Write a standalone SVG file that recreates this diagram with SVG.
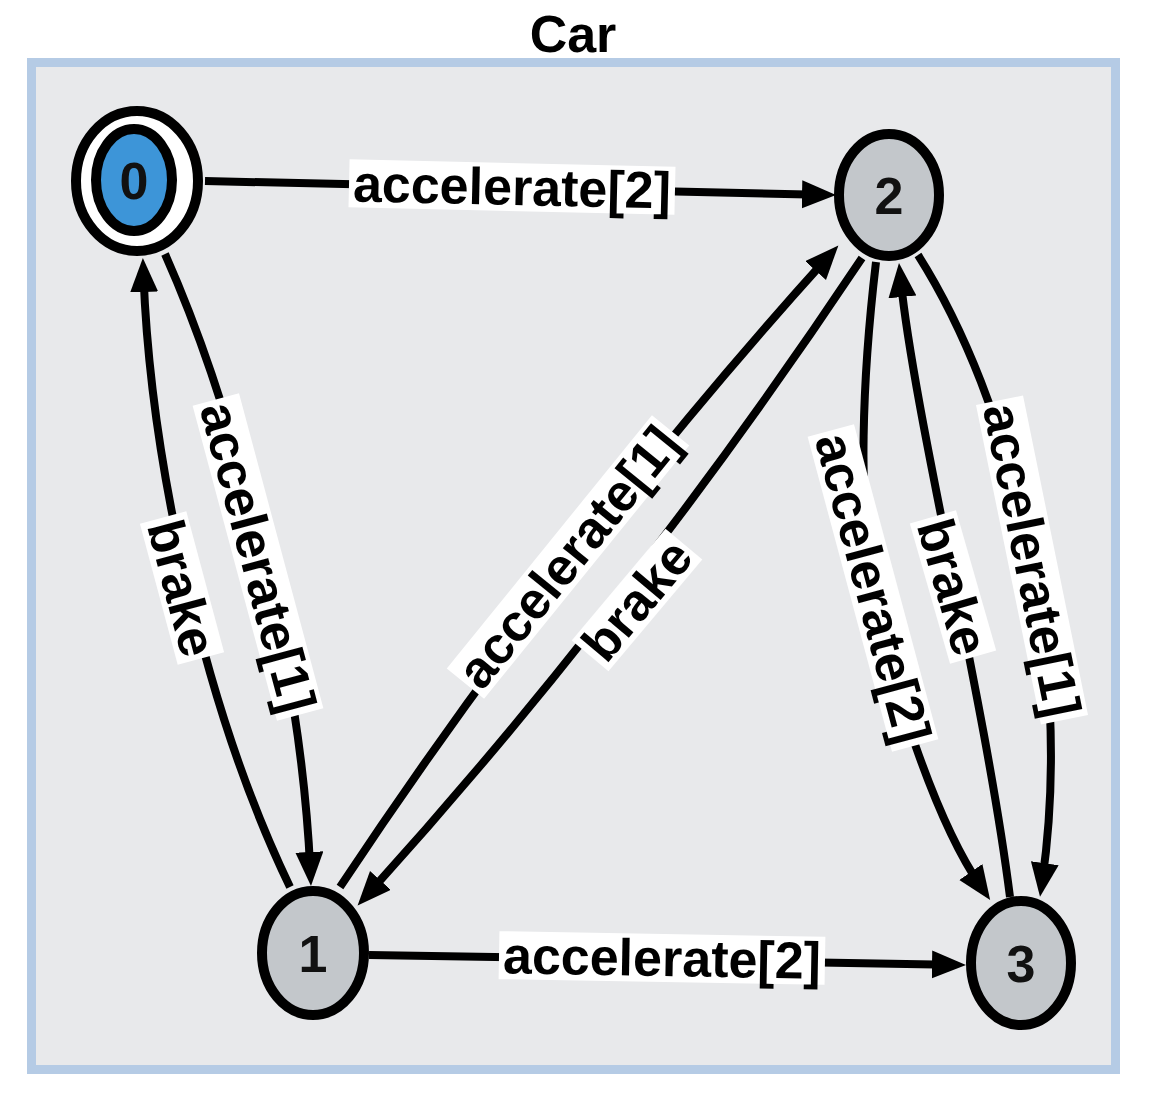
<svg xmlns="http://www.w3.org/2000/svg" width="1164" height="1116" viewBox="0 0 1164 1116">
<defs>
<marker id="arr" markerUnits="userSpaceOnUse" markerWidth="36" markerHeight="30" refX="17" refY="14" orient="auto" viewBox="0 0 36 30">
<path d="M0,0 L34,14 L0,28 z" fill="#000"/>
</marker>
<style>
.edge{fill:none;stroke:#000;stroke-width:8;marker-end:url(#arr)}
.lbg{fill:#fff}
.lt{font-family:"Liberation Sans",Arial,Helvetica,sans-serif;font-weight:bold;font-size:52px;fill:#000;text-anchor:middle}
.node{fill:#c3c7cb;stroke:#000;stroke-width:10}
.nt{font-family:"Liberation Sans",Arial,Helvetica,sans-serif;font-weight:bold;font-size:52px;fill:#111;text-anchor:middle}
</style>
</defs>
<rect width="1164" height="1116" fill="#ffffff"/>
<g id="container">
<rect x="31.5" y="62.5" width="1084" height="1007" fill="#e8e9eb" stroke="#b5cbe5" stroke-width="9"/>
<text x="573" y="52" class="lt">Car</text>
</g>
<g id="connectors">
<path class="edge" d="M205,181 L819,194.7"/>
<path class="edge" d="M369,955 L949,964.7"/>
<path class="edge" d="M165,254 C230,400 300,650 310.2,869"/>
<path class="edge" d="M290,887 C200,700 150,450 143.5,275"/>
<path class="edge" d="M340,887 Q565,548 827,258"/>
<path class="edge" d="M862,258 Q634,600 369,893"/>
<path class="edge" d="M876,262 C862,380 858,500 873,588 C888,676 935,820 980.5,886"/>
<path class="edge" d="M1010,897 C985,700 915,420 900.7,280"/>
<path class="edge" d="M918,255 C1010,400 1075,650 1042.4,880"/>
</g>
<g id="labels">
<g transform="translate(512,187) rotate(1.3)"><rect class="lbg" x="-163" y="-24" width="326" height="48"/><text class="lt" y="18">accelerate[2]</text></g>
<g transform="translate(662,958) rotate(1)"><rect class="lbg" x="-163" y="-24" width="326" height="48"/><text class="lt" y="18">accelerate[2]</text></g>
<g transform="translate(258,557) rotate(75)"><rect class="lbg" x="-163" y="-24" width="326" height="48"/><text class="lt" y="18">accelerate[1]</text></g>
<g transform="translate(182,588) rotate(75)"><rect class="lbg" x="-73" y="-24" width="146" height="48"/><text class="lt" y="18">brake</text></g>
<g transform="translate(568,557) rotate(-51)"><rect class="lbg" x="-163" y="-24" width="326" height="48"/><text class="lt" y="18">accelerate[1]</text></g>
<g transform="translate(637,600) rotate(-50)"><rect class="lbg" x="-73" y="-24" width="146" height="48"/><text class="lt" y="18">brake</text></g>
<g transform="translate(873,588) rotate(75)"><rect class="lbg" x="-163" y="-24" width="326" height="48"/><text class="lt" y="18">accelerate[2]</text></g>
<g transform="translate(953,587) rotate(74)"><rect class="lbg" x="-73" y="-24" width="146" height="48"/><text class="lt" y="18">brake</text></g>
<g transform="translate(1032,560) rotate(78.5)"><rect class="lbg" x="-163" y="-24" width="326" height="48"/><text class="lt" y="18">accelerate[1]</text></g>
</g>
<g id="node0">
<ellipse cx="137" cy="181" rx="61" ry="70" fill="#fff" stroke="#000" stroke-width="10"/>
<ellipse cx="134" cy="180" rx="38" ry="51" fill="#3d95d8" stroke="#000" stroke-width="10"/>
<text x="134" y="199" class="nt">0</text>
</g>
<g id="node2">
<ellipse class="node" cx="889" cy="195" rx="50" ry="61"/>
<text x="889" y="214" class="nt">2</text>
</g>
<g id="node1">
<ellipse class="node" cx="313" cy="953" rx="51" ry="62"/>
<text x="313" y="972" class="nt">1</text>
</g>
<g id="node3">
<ellipse class="node" cx="1021" cy="963" rx="50" ry="62"/>
<text x="1021" y="982" class="nt">3</text>
</g>
</svg>
